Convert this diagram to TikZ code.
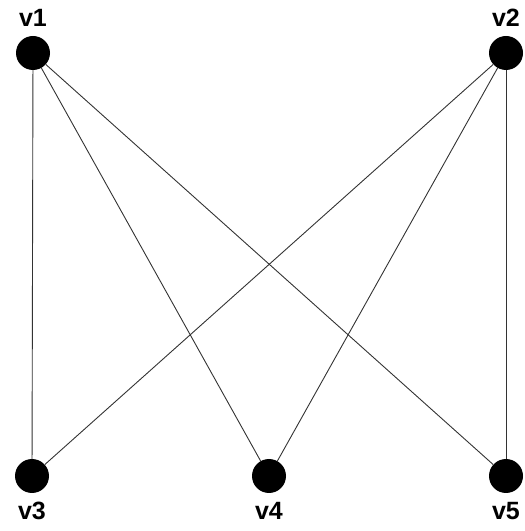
\documentclass[tikz,border=0pt]{standalone}
\usepackage{fontspec}
\setmainfont{Liberation Sans}
\usepackage{tikz}
\usetikzlibrary{positioning}

\begin{document}
\begin{tikzpicture}[
  x=1pt,y=1pt,
  vtx/.style={circle,fill=black,inner sep=0pt,minimum size=34pt},
  lbl/.style={font=\fontsize{25}{25}\selectfont\bfseries,inner sep=0pt},
  edge/.style={draw=black!80,line width=0.9pt}
]
  \useasboundingbox (0,0) rectangle (525,531);
  \node[vtx,label={[lbl,label distance=9pt]above:v1}] (v1) at (33,478) {};
  \node[vtx,label={[lbl,label distance=9pt]above:v2}] (v2) at (506,478) {};
  \node[vtx,label={[lbl,label distance=9pt]below:v3}] (v3) at (32,55) {};
  \node[vtx,label={[lbl,label distance=9pt]below:v4}] (v4) at (269,55) {};
  \node[vtx,label={[lbl,label distance=9pt]below:v5}] (v5) at (506,55) {};
  \draw[edge] (v1) -- (v3);
  \draw[edge] (v1) -- (v4);
  \draw[edge] (v1) -- (v5);
  \draw[edge] (v2) -- (v3);
  \draw[edge] (v2) -- (v4);
  \draw[edge] (v2) -- (v5);
\end{tikzpicture}
\end{document}
